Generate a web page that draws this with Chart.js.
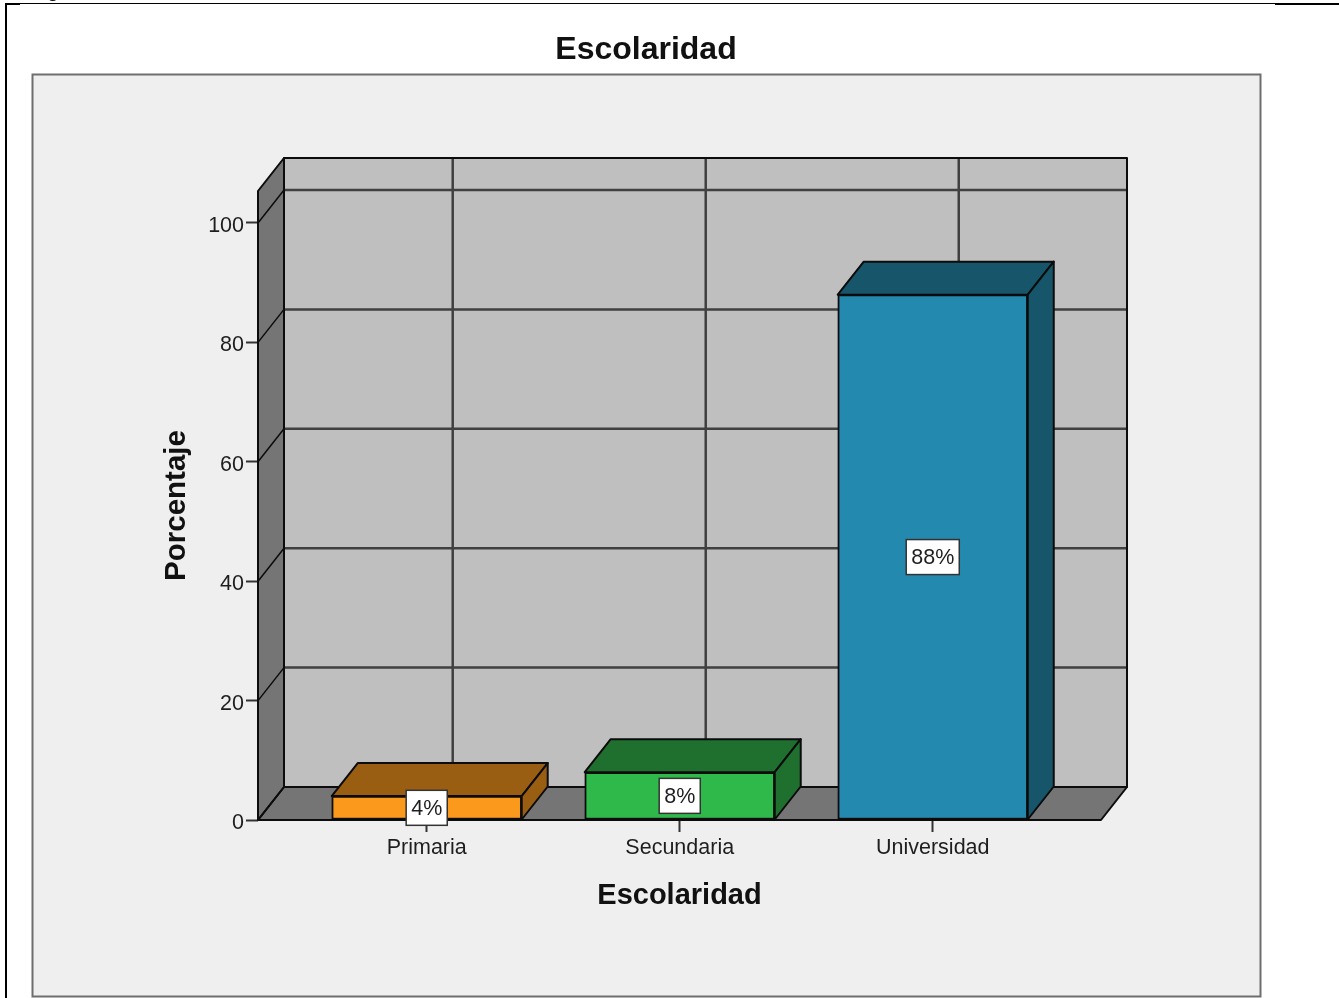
<!DOCTYPE html>
<html lang="es">
<head>
<meta charset="utf-8">
<title>Escolaridad</title>
<script src="https://cdn.jsdelivr.net/npm/chart.js@4"></script>
<style>
    html, body { margin: 0; padding: 0; background: #fff; }
    canvas { display: block; }
</style>
</head>
<body>
<canvas id="schoolingChart" width="1339" height="998"></canvas>
<script>
const categories = ['Primaria', 'Secundaria', 'Universidad'];
const percentages = [4, 8, 88];
const yTicks = [0, 20, 40, 60, 80, 100];
const faceColors = ['#fb991c', '#2fb94a', '#2389ae'];
const shadeColors = ['#9a5e12', '#1f6f2e', '#16556a'];

const FONT = '"Liberation Sans", Arial, sans-serif';
const TEXT = '#1e1e1e';
const LINE = '#0c0c0c';
const GRID = '#404040';

// offset of the back wall relative to the front plane
const DEPTH_X = 26;
const DEPTH_Y = 33;

function poly(ctx, pts, fill, stroke, width) {
    ctx.beginPath();
    pts.forEach(([x, y], i) => i ? ctx.lineTo(x, y) : ctx.moveTo(x, y));
    ctx.closePath();
    if (fill) { ctx.fillStyle = fill; ctx.fill(); }
    if (stroke) { ctx.strokeStyle = stroke; ctx.lineWidth = width || 2; ctx.lineJoin = 'round'; ctx.stroke(); }
}

function segment(ctx, x1, y1, x2, y2, color, width) {
    ctx.beginPath();
    ctx.moveTo(x1, y1);
    ctx.lineTo(x2, y2);
    ctx.strokeStyle = color;
    ctx.lineWidth = width;
    ctx.stroke();
}

/* --- Page frame and grey panel --- */
const panelPlugin = {
    id: 'panel',
    beforeDraw(chart) {
        const ctx = chart.ctx;
        ctx.save();
        ctx.fillStyle = '#fff';
        ctx.fillRect(0, 0, 1339, 998);

        ctx.fillStyle = '#000';
        ctx.fillRect(6, 3, 1269, 1);
        ctx.fillRect(5, 3, 2, 995);
        ctx.fillRect(5, 4, 15, 1);
        ctx.fillRect(1275, 3, 64, 2);

        ctx.font = '21px ' + FONT;
        ctx.fillText('g', 47, -3);

        ctx.fillStyle = '#efefef';
        ctx.fillRect(32, 74, 1228, 922);
        ctx.strokeStyle = '#6e6e6e';
        ctx.lineWidth = 2;
        ctx.strokeRect(32.5, 74.5, 1228, 922);
        ctx.restore();
    },
    afterLayout(chart) {
        // the title sits over the panel, not over the plot
        chart.titleBlock.left = 0;
        chart.titleBlock.right = 1292;
    }
};

/* --- Walls, floor and the shaded faces of the bars --- */
const boxPlugin = {
    id: 'box3d',
    beforeDatasetsDraw(chart) {
        const ctx = chart.ctx;
        const { left, right, top, bottom } = chart.chartArea;
        const { x: xs, y: ys } = chart.scales;
        ctx.save();

        poly(ctx, [[left + DEPTH_X, top - DEPTH_Y], [right + DEPTH_X, top - DEPTH_Y],
            [right + DEPTH_X, bottom - DEPTH_Y], [left + DEPTH_X, bottom - DEPTH_Y]], '#bfbfbf');
        poly(ctx, [[left, bottom], [left + DEPTH_X, bottom - DEPTH_Y],
            [left + DEPTH_X, top - DEPTH_Y], [left, top]], '#757575');
        poly(ctx, [[left, bottom], [left + DEPTH_X, bottom - DEPTH_Y],
            [right + DEPTH_X, bottom - DEPTH_Y], [right, bottom]], '#757575');

        categories.forEach((_, i) => {
            const px = xs.getPixelForValue(i) + DEPTH_X;
            segment(ctx, px, top - DEPTH_Y, px, bottom - DEPTH_Y, GRID, 2.5);
        });
        yTicks.slice(1).forEach(v => {
            const py = ys.getPixelForValue(v);
            segment(ctx, left + DEPTH_X, py - DEPTH_Y, right + DEPTH_X, py - DEPTH_Y, GRID, 2.5);
            segment(ctx, left, py, left + DEPTH_X, py - DEPTH_Y, LINE, 1.5);
        });

        // outlines of the box
        poly(ctx, [[left + DEPTH_X, top - DEPTH_Y], [right + DEPTH_X, top - DEPTH_Y],
            [right + DEPTH_X, bottom - DEPTH_Y], [left + DEPTH_X, bottom - DEPTH_Y]], null, LINE, 2);
        poly(ctx, [[left, bottom], [left + DEPTH_X, bottom - DEPTH_Y],
            [left + DEPTH_X, top - DEPTH_Y], [left, top]], null, LINE, 2);
        poly(ctx, [[left, bottom], [left + DEPTH_X, bottom - DEPTH_Y],
            [right + DEPTH_X, bottom - DEPTH_Y], [right, bottom]], null, LINE, 2);

        chart.getDatasetMeta(0).data.forEach((bar, i) => {
            const { x, y, base, width } = bar.getProps(['x', 'y', 'base', 'width'], true);
            const l = x - width / 2;
            const r = x + width / 2;
            poly(ctx, [[l, y], [l + DEPTH_X, y - DEPTH_Y], [r + DEPTH_X, y - DEPTH_Y], [r, y]],
                shadeColors[i], LINE, 2);
            poly(ctx, [[r, y], [r + DEPTH_X, y - DEPTH_Y], [r + DEPTH_X, base - DEPTH_Y], [r, base]],
                shadeColors[i], LINE, 2);
        });
        ctx.restore();
    },
    /* --- Percentage boxes in the middle of each bar --- */
    afterDatasetsDraw(chart) {
        const ctx = chart.ctx;
        ctx.save();
        ctx.font = '21.5px ' + FONT;
        ctx.textAlign = 'center';
        ctx.textBaseline = 'middle';
        chart.getDatasetMeta(0).data.forEach((bar, i) => {
            const { x, y, base } = bar.getProps(['x', 'y', 'base'], true);
            const cy = (y + base) / 2;
            const label = percentages[i] + '%';
            const w = ctx.measureText(label).width + 10;
            const h = 35;
            ctx.fillStyle = '#fff';
            ctx.fillRect(x - w / 2, cy - h / 2, w, h);
            ctx.strokeStyle = '#333';
            ctx.lineWidth = 1.5;
            ctx.strokeRect(x - w / 2, cy - h / 2, w, h);
            ctx.fillStyle = TEXT;
            ctx.fillText(label, x, cy + 1);
        });
        ctx.restore();
    }
};

new Chart(document.getElementById('schoolingChart'), {
    type: 'bar',
    data: {
        datasets: [{
            data: categories.map((_, i) => ({ x: i, y: percentages[i] })),
            backgroundColor: faceColors,
            borderColor: LINE,
            borderWidth: 2,
            borderSkipped: false,
            barThickness: 190
        }]
    },
    plugins: [panelPlugin, boxPlugin],
    options: {
        responsive: false,
        animation: false,
        layout: { padding: { left: 159, right: 238, top: 31, bottom: 85 } },
        plugins: {
            legend: { display: false },
            tooltip: { enabled: false },
            title: {
                display: true,
                text: 'Escolaridad',
                color: '#111',
                font: { family: FONT, size: 32, weight: 'bold' },
                padding: { top: 0, bottom: 121.6 }
            }
        },
        scales: {
            x: {
                type: 'linear',
                offset: false,
                min: -0.6668,
                max: 2.665,
                afterFit: s => { s.height = 93; },
                afterBuildTicks: s => { s.ticks = categories.map((_, i) => ({ value: i })); },
                grid: { offset: false, drawOnChartArea: false, tickLength: 12, tickColor: '#333', tickWidth: 2 },
                border: { display: false },
                ticks: {
                    autoSkip: false,
                    maxRotation: 0,
                    padding: 3,
                    color: TEXT,
                    font: { family: FONT, size: 21.5 },
                    callback: v => categories[v]
                },
                title: {
                    display: true,
                    text: 'Escolaridad',
                    color: '#111',
                    font: { family: FONT, size: 29, weight: 'bold' },
                    padding: 0
                }
            },
            y: {
                min: 0,
                max: 105.36,
                afterFit: s => { s.width = 99; },
                afterBuildTicks: s => { s.ticks = yTicks.map(v => ({ value: v })); },
                grid: { drawOnChartArea: false, tickLength: 12, tickColor: '#333', tickWidth: 2 },
                border: { display: false },
                ticks: {
                    padding: 2,
                    labelOffset: 3,
                    color: TEXT,
                    font: { family: FONT, size: 21.5 }
                },
                title: {
                    display: true,
                    text: 'Porcentaje',
                    color: '#111',
                    font: { family: FONT, size: 29.5, weight: 'bold' },
                    padding: 0
                }
            }
        }
    }
});
</script>
</body>
</html>
